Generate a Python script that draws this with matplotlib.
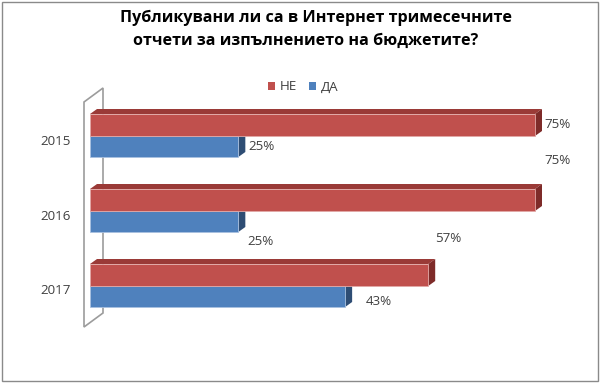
import matplotlib
matplotlib.use("Agg")
import matplotlib.pyplot as plt
from matplotlib.patches import Polygon, Rectangle

plt.rcParams['font.family'] = ['Open Sans', 'DejaVu Sans']

# ---- data ----
categories = ['2015', '2016', '2017']
series_names = ['НЕ', 'ДА']
ne_values = [75, 75, 57]
da_values = [25, 25, 43]
title_line1 = 'Публикувани ли са в Интернет тримесечните'
title_line2 = 'отчети за изпълнението на бюджетите?'

# ---- style ----
RED = '#C0504D'
RED_TOP = '#9A3A37'
RED_SIDE = '#7E2B29'
BLUE = '#4F81BD'
BLUE_TOP = '#3E6696'
BLUE_SIDE = '#2E4D74'
WALL = '#9C9C9C'
TXT = '#404040'
FS = 9.6

W, H = 600, 383
fig = plt.figure(figsize=(W / 100, H / 100), dpi=100)
fig.patch.set_facecolor('white')

# outer chart border
fig.add_artist(Rectangle((1.5 / W, 2 / H), 596 / W, 379 / H, transform=fig.transFigure,
                         fill=False, ec='#8A8A8A', lw=1.0))

# plot area
ax = fig.add_axes([90 / W, (H - 323.5) / H, 445 / W, 225 / H])
ax.set_xlim(0, 75)
ax.set_ylim(len(categories) - 0.5, -0.5)
ax.axis('off')

# pixel -> data unit conversions
PX = 75 / 445.0
PY = len(categories) / 225.0
DX = 7 * PX
DY = 5 * PY
bh_red = 22 * PY
bh_blue = 21 * PY

ypos = list(range(len(categories)))

# wall (left), parallelogram
wx0, wx1 = -6 * PX, 13 * PX
wy_front_top = -0.5 + 3.5 * PY
wy_front_bot = len(categories) - 0.5 + 3.5 * PY
wy_back_top = -0.5 - 10.5 * PY
wy_back_bot = len(categories) - 0.5 - 10.5 * PY
wall = Polygon([(wx0, wy_front_top), (wx1, wy_back_top), (wx1, wy_back_bot), (wx0, wy_front_bot)],
               closed=True, fill=False, ec=WALL, lw=1.2, clip_on=False, zorder=1)
ax.add_patch(wall)


def bar3d(y_top, height, value, top, side, z):
    ax.add_patch(Polygon([(0, y_top), (value, y_top), (value + DX, y_top - DY), (DX, y_top - DY)],
                         closed=True, fc=top, ec='none', clip_on=False, zorder=z))
    ax.add_patch(Polygon([(value, y_top), (value + DX, y_top - DY), (value + DX, y_top + height - DY),
                          (value, y_top + height)],
                         closed=True, fc=side, ec='none', clip_on=False, zorder=z))


for i, y in enumerate(ypos):
    bar3d(y, bh_blue, da_values[i], BLUE_TOP, BLUE_SIDE, 2)
    bar3d(y - bh_red, bh_red, ne_values[i], RED_TOP, RED_SIDE, 4)

ax.barh([y + bh_blue / 2 for y in ypos], da_values, height=bh_blue, color=BLUE,
        edgecolor='#A9C1E0', linewidth=0.6, zorder=3, clip_on=False)
ax.barh([y - bh_red / 2 for y in ypos], ne_values, height=bh_red, color=RED,
        edgecolor='#E2A9A7', linewidth=0.6, zorder=5, clip_on=False)

# category labels
for i, y in enumerate(ypos):
    ax.annotate(categories[i], xy=(0, y), xytext=(-19, -5), textcoords='offset pixels',
                ha='right', va='center', fontsize=FS, color=TXT, annotation_clip=False)

# data labels (Excel-placed offsets, pixels)
ne_off = [(9, 0), (9, 40), (7, 37)]
da_off = [(10, 0), (9, -20), (21, -5)]
for i, y in enumerate(ypos):
    ax.annotate(f'{ne_values[i]}%', xy=(ne_values[i], y - bh_red / 2), xytext=ne_off[i],
                textcoords='offset pixels', ha='left', va='center', fontsize=FS, color=TXT,
                annotation_clip=False, zorder=10)
    ax.annotate(f'{da_values[i]}%', xy=(da_values[i], y + bh_blue / 2), xytext=da_off[i],
                textcoords='offset pixels', ha='left', va='center', fontsize=FS, color=TXT,
                annotation_clip=False, zorder=10)

# title
fig.text(316 / W, 1 - 18 / H, title_line1, ha='center', va='center', fontsize=11.6,
         fontweight='bold', color='black')
fig.text(306 / W, 1 - 41 / H, title_line2, ha='center', va='center', fontsize=11.6,
         fontweight='bold', color='black')

# legend
handles = [Rectangle((0, 0), 1, 1, fc=RED, ec='none'), Rectangle((0, 0), 1, 1, fc=BLUE, ec='none')]
fig.legend(handles, series_names, loc='center', bbox_to_anchor=(303 / W, 1 - 87 / H), ncol=2,
           frameon=False, fontsize=FS, handlelength=0.55, handleheight=0.55, handletextpad=0.35,
           columnspacing=0.9, labelcolor=TXT, borderaxespad=0, borderpad=0)

fig.savefig('out.png', dpi=100, facecolor='white')
